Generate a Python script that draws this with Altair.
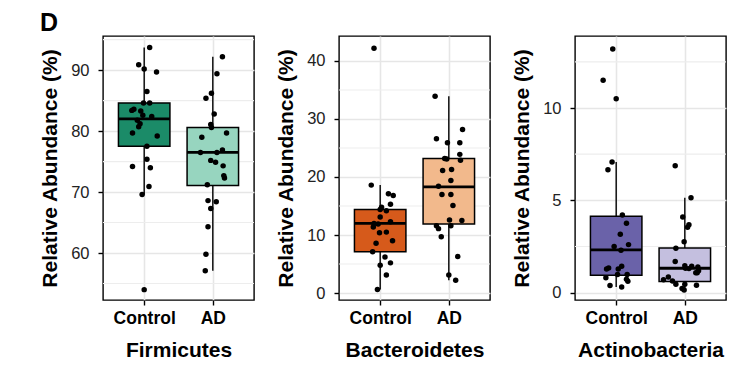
import altair as alt
import pandas as pd

groups = ["Control", "AD"]
phyla = ["Firmicutes", "Bacteroidetes", "Actinobacteria"]
y_title = "Relative Abundance (%)"

# ---- Firmicutes ----
firm_ctrl = [93.7, 90.9, 90.2, 89.7, 86.5, 84.6, 84.6, 83.4, 83.6, 83.3, 82.6, 82.4,
             81.8, 81.2, 80.7, 79.7, 79.2, 77.5, 75.4, 74.2, 74.0, 70.9, 69.6, 54.0]
firm_ctrl_jit = [0.08, -0.08, 0.0, 0.18, 0.04, -0.01, 0.08, -0.18, -0.15, -0.05, -0.02, 0.11,
                 -0.10, -0.06, -0.08, -0.17, 0.19, 0.04, 0.04, -0.17, 0.09, 0.07, -0.03, 0.0]
firm_ad = [92.2, 89.4, 86.2, 85.4, 82.8, 81.1, 80.6, 79.7, 79.0, 76.5, 76.5, 76.9,
           75.2, 74.9, 74.3, 72.7, 72.3, 71.2, 68.6, 68.4, 67.3, 64.3, 59.8, 57.1]
firm_ad_jit = [0.14, 0.06, -0.02, -0.10, 0.02, -0.03, -0.02, 0.20, -0.16, -0.18, 0.06, 0.14,
               -0.03, 0.04, 0.15, 0.16, 0.17, -0.08, -0.07, 0.05, -0.03, -0.07, -0.10, -0.11]
# box stats per group: lower whisker, Q1, median, Q3, upper whisker
firm_lo = [69.6, 57.1]
firm_q1 = [77.5, 71.1]
firm_med = [82.0, 76.5]
firm_q3 = [84.6, 80.6]
firm_hi = [93.7, 92.2]

# ---- Bacteroidetes ----
bact_ctrl = [42.2, 18.6, 17.1, 16.8, 15.3, 14.8, 14.4, 14.2, 13.1, 12.0, 11.9, 12.3,
             11.4, 10.4, 10.5, 8.6, 9.0, 7.1, 6.2, 5.2, 4.8, 3.1, 0.6]
bact_ctrl_jit = [-0.09, -0.13, 0.12, 0.19, 0.15, 0.02, 0.0, 0.09, 0.0, -0.09, -0.03, 0.15,
                 -0.10, -0.01, 0.09, -0.06, 0.18, -0.11, 0.07, 0.15, 0.0, 0.09, -0.04]
bact_ad = [33.9, 28.2, 26.6, 25.9, 25.9, 23.9, 22.9, 23.2, 23.1, 21.1, 21.3, 19.4, 18.4,
           17.0, 17.0, 15.1, 12.5, 12.6, 11.6, 11.1, 11.6, 9.7, 6.3, 3.1, 2.2]
bact_ad_jit = [-0.20, 0.20, -0.18, -0.02, 0.16, 0.16, 0.17, -0.06, -0.03, -0.09, 0.04, 0.03, -0.15,
               -0.10, 0.03, 0.06, 0.19, 0.01, -0.18, -0.15, 0.03, -0.11, 0.13, 0.0, 0.10]
bact_lo = [0.6, 2.2]
bact_q1 = [7.1, 11.9]
bact_med = [12.0, 18.3]
bact_q3 = [14.4, 23.2]
bact_hi = [18.6, 33.9]

# ---- Actinobacteria ----
actino_ctrl = [13.2, 11.5, 10.5, 7.07, 6.65, 4.21, 3.76, 3.16, 2.6, 2.5, 2.3, 1.28,
               1.34, 1.28, 1.43, 0.98, 0.98, 0.81, 0.72, 0.61, 0.38, 0.31]
actino_ctrl_jit = [-0.05, -0.19, 0.0, -0.06, -0.12, 0.09, 0.15, 0.06, 0.18, -0.03, 0.07, -0.14,
                   -0.11, 0.03, 0.08, 0.02, 0.16, -0.15, 0.15, 0.17, -0.09, 0.08]
actino_ad = [6.87, 5.14, 4.1, 3.67, 3.54, 2.75, 2.4, 1.68, 1.45, 1.43, 1.39, 1.32,
             1.30, 1.18, 1.08, 1.07, 0.85, 0.70, 0.63, 0.45, 0.45, 0.40, 0.22, 0.14]
actino_ad_jit = [-0.14, 0.09, -0.03, 0.06, 0.04, -0.01, -0.13, -0.14, 0.0, 0.10, 0.19, 0.01,
                 0.06, 0.20, 0.18, 0.16, -0.24, -0.31, -0.18, -0.13, 0.0, 0.17, -0.04, -0.01]
actino_lo = [0.31, 0.14]
actino_q1 = [0.94, 0.60]
actino_med = [2.31, 1.32]
actino_q3 = [4.14, 2.41]
actino_hi = [7.07, 5.14]

# ---- axis settings ----
firm_domain = [52.3, 95.6]
firm_ticks = [60, 70, 80, 90]
firm_minor = [55, 65, 75, 85, 95]
bact_domain = [-1.2, 44.3]
bact_ticks = [0, 10, 20, 30, 40]
bact_minor = [5, 15, 25, 35]
actino_domain = [-0.4, 13.9]
actino_ticks = [0, 5, 10]
actino_minor = [2.5, 7.5, 12.5]

firm_colors = ["#1b8b68", "#97d5bf"]
bact_colors = ["#d65a1b", "#f2b98c"]
actino_colors = ["#6a62a9", "#c4bfdf"]

BOX_HALF = 0.375
GRID = "#e6e6e6"


def panel(name, ctrl, ctrl_j, ad, ad_j, lo, q1, med, q3, hi, colors, domain, ticks, minor):
    pts = pd.DataFrame({
        "pos": [1 + j for j in ctrl_j] + [2 + j for j in ad_j],
        "val": ctrl + ad,
    })
    box = pd.DataFrame({"group": groups, "pos": [1, 2], "lo": lo, "q1": q1,
                        "med": med, "q3": q3, "hi": hi})
    box["left"] = box["pos"] - BOX_HALF
    box["right"] = box["pos"] + BOX_HALF
    grid = pd.DataFrame({"val": minor})

    xs = alt.Scale(domain=[0.4, 2.6], nice=False, zero=False)
    xa = alt.Axis(values=[1, 2], labelExpr="datum.value == 1 ? 'Control' : 'AD'",
                  title=name, grid=True)
    ys = alt.Scale(domain=domain, nice=False, zero=False)
    ya = alt.Axis(values=ticks, title=y_title, grid=True)

    minor_grid = alt.Chart(grid).mark_rule(color="#ededed", strokeWidth=1.1).encode(
        y=alt.Y("val:Q", scale=ys, axis=ya))
    whisk = alt.Chart(box).mark_rule(color="black", strokeWidth=1.4).encode(
        x=alt.X("pos:Q", scale=xs, axis=xa),
        y=alt.Y("lo:Q", scale=ys, axis=ya), y2="hi:Q")
    rect = alt.Chart(box).mark_rect(stroke="black", strokeWidth=1.5).encode(
        x=alt.X("left:Q", scale=xs, axis=xa), x2="right:Q",
        y=alt.Y("q1:Q", scale=ys, axis=ya), y2="q3:Q",
        fill=alt.Fill("group:N", scale=alt.Scale(domain=groups, range=colors), legend=None))
    medl = alt.Chart(box).mark_rule(color="black", strokeWidth=2.8).encode(
        x=alt.X("left:Q", scale=xs, axis=xa), x2="right:Q",
        y=alt.Y("med:Q", scale=ys, axis=ya))
    dots = alt.Chart(pts).mark_circle(color="black", opacity=1, size=30).encode(
        x=alt.X("pos:Q", scale=xs, axis=xa),
        y=alt.Y("val:Q", scale=ys, axis=ya))
    return alt.layer(minor_grid, whisk, rect, medl, dots).properties(width=151, height=264)


p1 = panel(phyla[0], firm_ctrl, firm_ctrl_jit, firm_ad, firm_ad_jit,
           firm_lo, firm_q1, firm_med, firm_q3, firm_hi, firm_colors,
           firm_domain, firm_ticks, firm_minor)
p2 = panel(phyla[1], bact_ctrl, bact_ctrl_jit, bact_ad, bact_ad_jit,
           bact_lo, bact_q1, bact_med, bact_q3, bact_hi, bact_colors,
           bact_domain, bact_ticks, bact_minor)
p3 = panel(phyla[2], actino_ctrl, actino_ctrl_jit, actino_ad, actino_ad_jit,
           actino_lo, actino_q1, actino_med, actino_q3, actino_hi, actino_colors,
           actino_domain, actino_ticks, actino_minor)

chart = alt.hconcat(p1, p2, p3, spacing=85, bounds="flush").resolve_scale(
    y="independent", x="independent", fill="independent"
).properties(
    title=alt.TitleParams("D", anchor="start", fontSize=25, fontWeight="bold",
                          font="Liberation Sans", color="black", offset=-1, dx=1),
    padding={"left": 30, "top": 3, "right": 5, "bottom": 5},
).configure(
    font="Liberation Sans",
).configure_view(
    stroke="black", strokeWidth=1.4,
).configure_axis(
    domain=False, tickColor="black", tickSize=5, tickWidth=1.4,
    gridColor=GRID, gridWidth=1.6,
    labelFont="Liberation Sans", titleFont="Liberation Sans",
    titleColor="black", titleFontWeight="bold", titleFontSize=21,
).configure_axisY(
    labelFontSize=16.5, labelColor="#222222", labelPadding=9, titlePadding=10,
).configure_axisX(
    labelFontSize=17.5, labelFontWeight="bold", labelColor="black", labelPadding=4,
    titlePadding=13,
)

chart.save("out.html", embed_options={"renderer": "svg", "actions": False})
